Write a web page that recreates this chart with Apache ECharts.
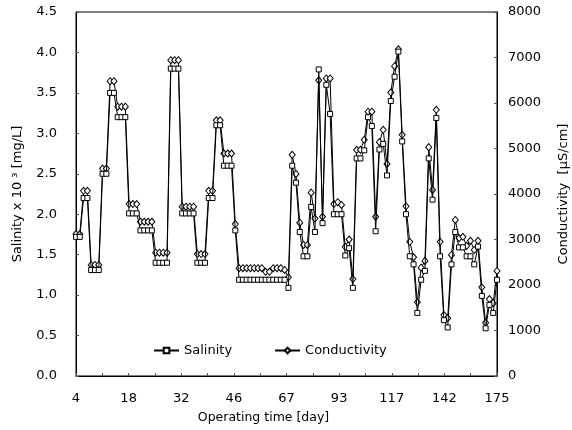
<!DOCTYPE html>
<html>
<head>
<meta charset="utf-8">
<script src="https://cdn.jsdelivr.net/npm/echarts@6/dist/echarts.min.js"></script>
<style>
html,body{margin:0;padding:0;background:#fff;}
#c{width:572px;height:430px;}
</style>
</head>
<body>
<div id="c"></div>
<script>
// Tick labels shown along the x axis (operating day)
const dayLabels = ['4', '18', '32', '46', '67', '93', '117', '142', '175'];

// Salinity x 10^3 [mg/L], one value per sample (sample index 0..111)
const salinity = [
  1.72, 1.72, 2.20, 2.20, 1.31, 1.31, 1.31, 2.50, 2.50, 3.50,
  3.50, 3.20, 3.20, 3.20, 2.01, 2.01, 2.01, 1.80, 1.80, 1.80,
  1.80, 1.40, 1.40, 1.40, 1.40, 3.80, 3.80, 3.80, 2.01, 2.01,
  2.01, 2.01, 1.40, 1.40, 1.40, 2.20, 2.20, 3.10, 3.10, 2.60,
  2.60, 2.60, 1.80, 1.19, 1.19, 1.19, 1.19, 1.19, 1.19, 1.19,
  1.19, 1.19, 1.19, 1.19, 1.19, 1.19, 1.09, 2.60, 2.39, 1.78,
  1.48, 1.48, 2.09, 1.78, 3.79, 1.89, 3.60, 3.24, 2.00, 2.00,
  2.00, 1.49, 1.58, 1.09, 2.69, 2.69, 2.79, 3.20, 3.09, 1.79,
  2.80, 2.87, 2.48, 3.40, 3.70, 4.01, 2.90, 2.00, 1.48, 1.38,
  0.78, 1.19, 1.30, 2.69, 2.18, 3.19, 1.48, 0.69, 0.60, 1.38,
  1.78, 1.59, 1.59, 1.48, 1.48, 1.38, 1.60, 0.99, 0.59, 0.88,
  0.78, 1.19
];

// Conductivity [uS/cm], one value per sample
const conductivity = [
  3120, 3120, 4070, 4070, 2440, 2440, 2440, 4560, 4560, 6480,
  6480, 5920, 5920, 5920, 3780, 3780, 3780, 3390, 3390, 3390,
  3390, 2710, 2710, 2710, 2710, 6940, 6940, 6940, 3720, 3720,
  3720, 3720, 2680, 2680, 2680, 4070, 4070, 5620, 5620, 4890,
  4890, 4890, 3340, 2370, 2370, 2370, 2370, 2370, 2370, 2370,
  2290, 2290, 2370, 2370, 2370, 2330, 2170, 4860, 4440, 3370,
  2880, 2880, 4030, 3460, 6500, 3500, 6540, 6540, 3780, 3820,
  3760, 2840, 3000, 2130, 4970, 4970, 5190, 5810, 5810, 3500,
  5140, 5410, 4660, 6230, 6810, 7180, 5300, 3730, 2950, 2610,
  1620, 2380, 2530, 5030, 4090, 5850, 2950, 1340, 1270, 2660,
  3430, 3030, 3060, 2860, 2970, 2770, 2970, 1950, 1170, 1690,
  1600, 2310
];

const lastIndex = salinity.length - 1;
const labelStep = lastIndex / (dayLabels.length - 1);

const chart = echarts.init(document.getElementById('c'), null, {renderer: 'canvas'});
const font = 'DejaVu Sans';
const mk = arr => arr.map((v, i) => [i, v]);

chart.setOption({
  animation: false,
  backgroundColor: '#fff',
  textStyle: {fontFamily: font, color: '#000'},
  grid: {
    left: 76, right: 75, top: 12, bottom: 54, show: true, borderColor: '#000', borderWidth: 1,
    containLabel: false, outerBoundsMode: 'none'
  },
  legend: {
    left: 148, top: 339, itemWidth: 25, itemHeight: 7, itemGap: 42,
    textStyle: {fontFamily: font, fontSize: 13, color: '#000'},
    data: ['Salinity', 'Conductivity']
  },
  xAxis: {
    type: 'value', min: 0, max: lastIndex, interval: labelStep,
    name: 'Operating time [day]', nameLocation: 'middle', nameGap: 35,
    nameTextStyle: {fontFamily: font, fontSize: 12.5, color: '#000', padding: [0, 46, 0, 0]},
    axisLine: {lineStyle: {color: '#000', width: 1}},
    axisTick: {inside: true, length: 3, lineStyle: {color: '#555'}},
    minorTick: {show: true, splitNumber: 2, length: 3, lineStyle: {color: '#555'}},
    splitLine: {show: false},
    axisLabel: {
      margin: 16, fontFamily: font, fontSize: 13, color: '#000',
      formatter: v => dayLabels[Math.round(v / labelStep)]
    }
  },
  yAxis: [
    {
      type: 'value', min: 0, max: 4.5, interval: 0.5, position: 'left',
      name: 'Salinity x 10 \u00b3 [mg/L]', nameLocation: 'middle', nameGap: 52, nameRotate: 90,
      nameTextStyle: {fontFamily: font, fontSize: 13, color: '#000'},
      axisLine: {show: true, lineStyle: {color: '#000'}},
      axisTick: {show: true, inside: true, length: 3, lineStyle: {color: '#555'}},
      splitLine: {show: false},
      axisLabel: {margin: 19, fontFamily: font, fontSize: 13, color: '#000', formatter: v => v.toFixed(1)}
    },
    {
      type: 'value', min: 0, max: 8000, interval: 1000, position: 'right',
      name: 'Conductivity  [\u03bcS/cm]', nameLocation: 'middle', nameGap: 60, nameRotate: 90,
      nameTextStyle: {fontFamily: font, fontSize: 13, color: '#000'},
      axisLine: {show: true, lineStyle: {color: '#000'}},
      axisTick: {show: true, inside: true, length: 3, lineStyle: {color: '#555'}},
      splitLine: {show: false},
      axisLabel: {margin: 11, fontFamily: font, fontSize: 13, color: '#000', formatter: v => String(v)}
    }
  ],
  series: [
    {
      name: 'Salinity', type: 'line', yAxisIndex: 0, data: mk(salinity),
      symbol: 'rect', symbolSize: 5, showAllSymbol: true,
      lineStyle: {color: '#000', width: 1},
      itemStyle: {color: '#fff', borderColor: '#000', borderWidth: 1},
      z: 3
    },
    {
      name: 'Conductivity', type: 'line', yAxisIndex: 1, data: mk(conductivity),
      symbol: 'diamond', symbolSize: [6, 7], showAllSymbol: true,
      lineStyle: {color: '#000', width: 1},
      itemStyle: {color: '#fff', borderColor: '#000', borderWidth: 1},
      z: 2
    }
  ]
});
</script>
</body>
</html>
